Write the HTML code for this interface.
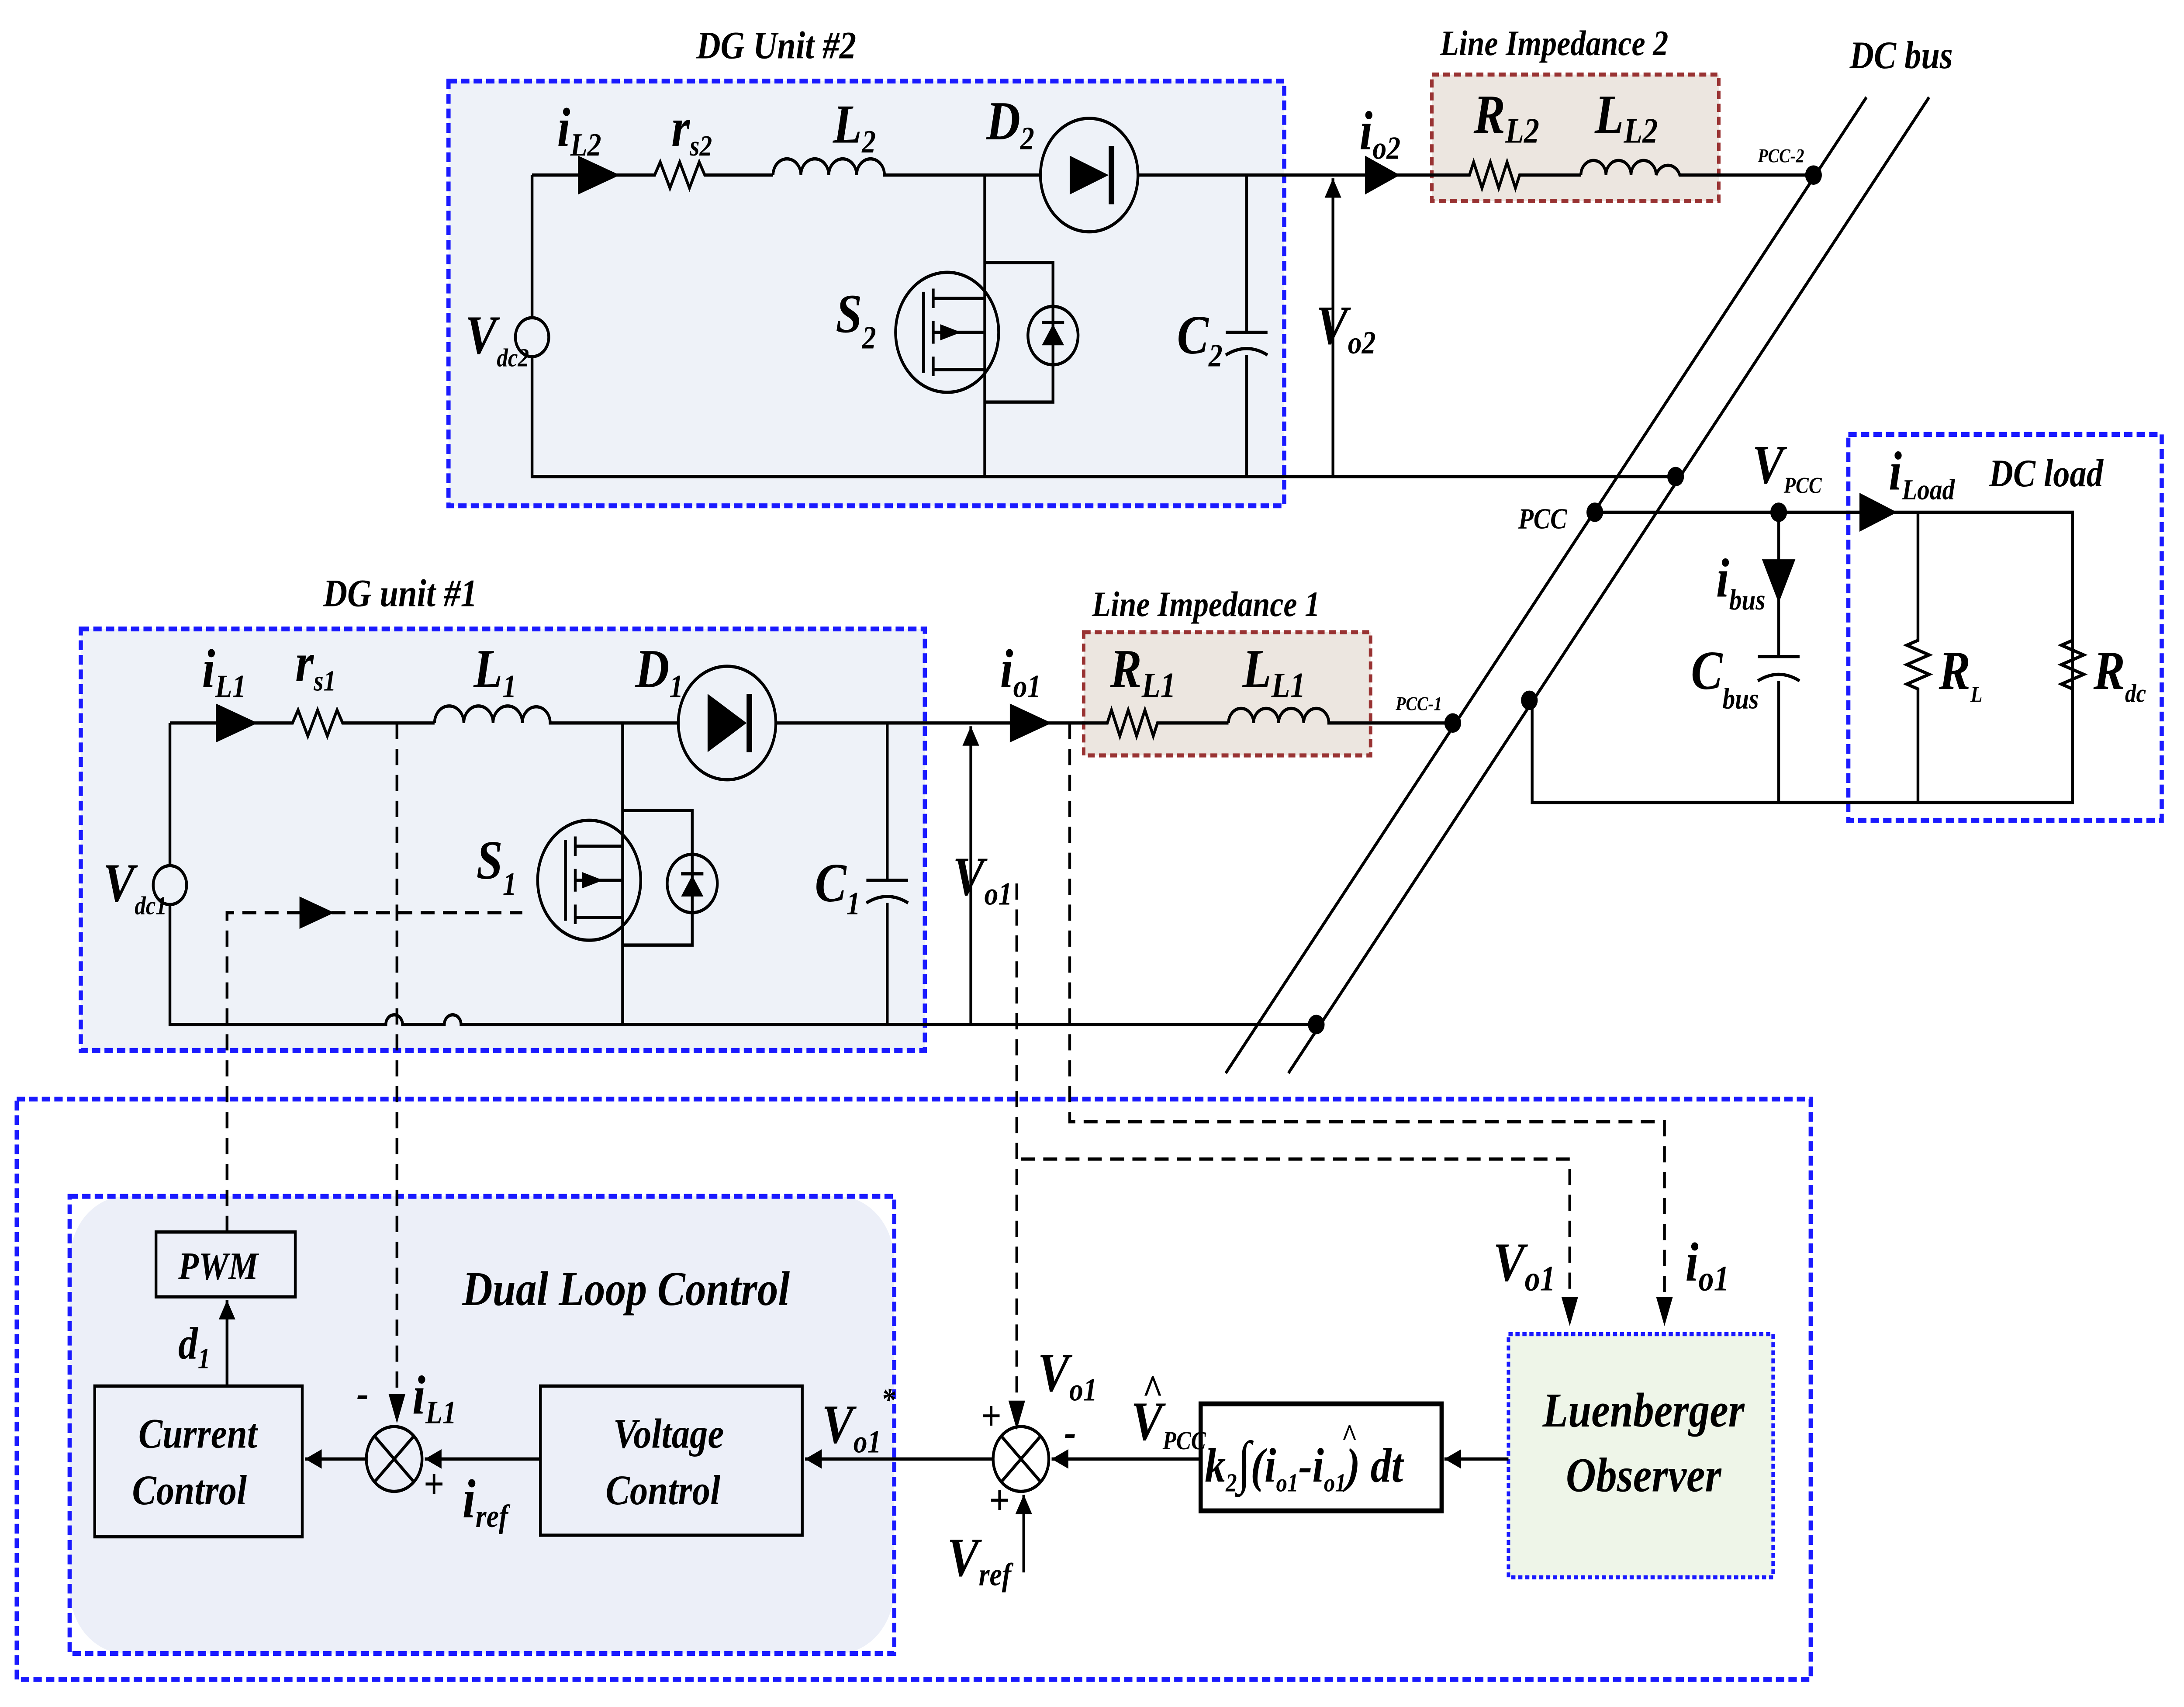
<!DOCTYPE html>
<html><head><meta charset="utf-8"><style>
html,body{margin:0;padding:0;background:#fff;overflow:hidden;width:100%;height:100%}
svg{display:block;position:fixed;left:0;top:0;width:100vw;height:100vh}
text{font-family:"Liberation Serif",serif;font-weight:bold;font-style:italic;fill:#000}
</style></head><body>
<svg viewBox="0 0 1568 1053" preserveAspectRatio="none" xmlns="http://www.w3.org/2000/svg">
<defs>
<marker id="ah" viewBox="0 0 10 10" refX="10" refY="5" markerWidth="6" markerHeight="6" orient="auto"><path d="M0,0 L10,5 L0,10 z" fill="#000"/></marker>
</defs>
<rect width="1568" height="1053" fill="#fff"/>
<rect x="322" y="50" width="600" height="262" fill="#eef2f8" stroke="#1a1aff" stroke-width="3" stroke-dasharray="6,3"/>
<rect x="58" y="388" width="606" height="260" fill="#eef2f8" stroke="#1a1aff" stroke-width="3" stroke-dasharray="6,3"/>
<rect x="1028" y="46" width="206" height="78" fill="#ece6e0" stroke="#993333" stroke-width="2.5" stroke-dasharray="5,3"/>
<rect x="778" y="390" width="206" height="76" fill="#ece6e0" stroke="#993333" stroke-width="2.5" stroke-dasharray="5,3"/>
<rect x="1327" y="268" width="225" height="238" fill="none" stroke="#1a1aff" stroke-width="3" stroke-dasharray="6,3"/>
<rect x="12" y="678" width="1288" height="358" fill="none" stroke="#1a1aff" stroke-width="3" stroke-dasharray="6,3"/>
<rect x="50" y="738" width="592" height="282" rx="40" fill="#eceff8" stroke="none"/>
<rect x="50" y="738" width="592" height="282" fill="none" stroke="#1a1aff" stroke-width="3" stroke-dasharray="6,3"/>
<rect x="1083" y="823" width="190" height="150" fill="#eef5e8" stroke="#1a1aff" stroke-width="2.5" stroke-dasharray="3,2"/>

<g fill="none" stroke="#000" stroke-width="2">
<path d="M382,108 V196 M382,220 V294 H1203"/>
<path d="M382,108 H470 l4,-8 l7,16 l7,-16 l7,16 l7,-16 l4,8 H555"/>
<path d="M555,108 a10,10 0 0 1 20,0 a10,10 0 0 1 20,0 a10,10 0 0 1 20,0 a10,10 0 0 1 20,0 H747"/>
<path d="M817,108 H1055 l3,-8 l6,16 l6,-16 l6,16 l6,-16 l6,16 l3,-8 H1135"/>
<path d="M1135,108 a9,9 0 0 1 18,0 a9,9 0 0 1 18,0 a9,9 0 0 1 18,0 a9,9 0 0 1 17,0 H1302"/>
<circle cx="782" cy="108" r="35"/>
<path d="M707,108 V294 M895,108 V205 M895,219 V294"/>
<path d="M880,205 H910 M880,219 q15,-8 30,0"/>
<circle cx="382" cy="208" r="12"/>
<circle cx="680" cy="205" r="37"/>
<path d="M707,162 H756 V248 H707"/>
<circle cx="756" cy="207" r="18"/>
<path d="M663,180 V230 M670,178 V190 M670,198 V212 M670,220 V232 M670,184 H707 M670,228 H707 M670,205 H707"/>
<path d="M122,446 V534 M122,558 V632 H277 a6,6 0 0 1 12,0 H319 a6,6 0 0 1 12,0 H945"/>
<path d="M122,446 H210 l4,-8 l7,16 l7,-16 l7,16 l7,-16 l4,8 H312"/>
<path d="M312,446 a10,10 0 0 1 21,0 a10,10 0 0 1 21,0 a10,10 0 0 1 21,0 a10,10 0 0 1 20,0 H487"/>
<path d="M557,446 H795 l3,-8 l6,16 l6,-16 l6,16 l6,-16 l6,16 l3,-8 H882"/>
<path d="M882,446 a9,9 0 0 1 18,0 a9,9 0 0 1 18,0 a9,9 0 0 1 18,0 a9,9 0 0 1 18,0 H1043"/>
<circle cx="522" cy="446" r="35"/>
<path d="M447,446 V632 M637,446 V543 M637,557 V632"/>
<path d="M622,543 H652 M622,557 q15,-8 30,0"/>
<circle cx="122" cy="546" r="12"/>
<circle cx="423" cy="543" r="37"/>
<path d="M447,500 H497 V583 H447"/>
<circle cx="497" cy="545" r="18"/>
<path d="M406,518 V568 M413,516 V528 M413,536 V550 M413,558 V570 M413,522 H447 M413,566 H447 M413,543 H447"/>
<path d="M1340,60 L880,662 M1385,60 L925,662"/>
<path d="M1145,316 H1488 V495 H1100 V432"/>
<path d="M1277,316 V405 M1277,420 V495 M1262,405 H1292 M1262,420 q15,-8 30,0"/>
<path d="M1377,316 V395 l-8,3 l16,6 l-16,6 l16,6 l-16,6 l8,3 V495"/>
<path d="M1488,395 l-8,3 l16,6 l-16,6 l16,6 l-16,6 l8,3"/>
<path d="M957,294 V110" marker-end="url(#ah)"/>
<path d="M697,632 V448" marker-end="url(#ah)"/>
<rect x="112" y="760" width="100" height="40"/>
<rect x="68" y="855" width="149" height="93"/>
<rect x="388" y="855" width="188" height="92"/>
<rect x="862" y="866" width="173" height="66" stroke-width="3"/>
<circle cx="283" cy="900" r="20"/>
<path d="M269,886 L297,914 M297,886 L269,914"/>
<circle cx="733" cy="900" r="20"/>
<path d="M719,886 L747,914 M747,886 L719,914"/>
<path d="M163,855 V802" marker-end="url(#ah)"/>
<path d="M263,900 H219" marker-end="url(#ah)"/>
<path d="M388,900 H305" marker-end="url(#ah)"/>
<path d="M713,900 H578" marker-end="url(#ah)"/>
<path d="M862,900 H755" marker-end="url(#ah)"/>
<path d="M1083,900 H1037" marker-end="url(#ah)"/>
<path d="M735,970 V922" marker-end="url(#ah)"/>
</g>
<g fill="#000">
<path d="M415,96 L445,108 L415,120 z"/><path d="M980,96 L1005,108 L980,120 z"/>
<path d="M155,434 L185,446 L155,458 z"/><path d="M725,434 L755,446 L725,458 z"/>
<path d="M1335,304 L1362,316 L1335,328 z"/><path d="M1265,345 L1277,372 L1289,345 z"/>
<path d="M768,96 L796,108 L768,120 z"/><rect x="796" y="90" width="4" height="36"/>
<path d="M508,428 L536,446 L508,464 z"/><rect x="536" y="428" width="4" height="36"/>
<path d="M748,213 L764,213 L756,200 z"/><rect x="748" y="198" width="16" height="2"/>
<path d="M489,553 L505,553 L497,540 z"/><rect x="489" y="538" width="16" height="2"/>
<path d="M675,200 L690,205 L675,210 z"/><path d="M418,538 L433,543 L418,548 z"/>
<circle cx="1302" cy="108" r="6"/><circle cx="1203" cy="294" r="6"/><circle cx="1145" cy="316" r="6"/>
<circle cx="1277" cy="316" r="6"/><circle cx="1043" cy="446" r="6"/><circle cx="1098" cy="432" r="6"/><circle cx="945" cy="632" r="6"/>
</g>
<g fill="none" stroke="#000" stroke-width="2" stroke-dasharray="10,6">
<path d="M163,760 V563 H375"/>
<path d="M285,446 V862"/>
<path d="M730,545 V870"/>
<path d="M768,446 V692 H1195 V810"/>
<path d="M733,715 H1127 V810"/>
</g>
<g fill="#000">
<path d="M215,553 L240,563 L215,573 z"/>
<path d="M279,860 L291,860 L285,878 z"/><path d="M724,864 L736,864 L730,882 z"/>
<path d="M1189,800 L1201,800 L1195,818 z"/><path d="M1121,800 L1133,800 L1127,818 z"/>
</g>
<g font-size="24">
<text x="500" y="36">DG Unit #2</text>
<text x="232" y="374">DG unit #1</text>
<text x="1034" y="34" font-size="22">Line Impedance 2</text>
<text x="784" y="380" font-size="22">Line Impedance 1</text>
<text x="1328" y="42">DC bus</text>
<text x="1428" y="300">DC load</text>
<text x="1090" y="326" font-size="18">PCC</text>
<text x="1262" y="100" font-size="12" font-style="normal">PCC-2</text>
<text x="1002" y="438" font-size="12" font-style="normal">PCC-1</text>
</g>
<g font-size="34">
<text x="400" y="90">i<tspan font-size="20" dy="6">L2</tspan></text>
<text x="482" y="90">r<tspan font-size="18" dy="6">s2</tspan></text>
<text x="598" y="88">L<tspan font-size="20" dy="6">2</tspan></text>
<text x="708" y="86">D<tspan font-size="20" dy="6">2</tspan></text>
<text x="600" y="205">S<tspan font-size="20" dy="10">2</tspan></text>
<text x="845" y="218">C<tspan font-size="20" dy="8">2</tspan></text>
<text x="945" y="212">V<tspan font-size="20" dy="6">o2</tspan></text>
<text x="334" y="218">V<tspan font-size="16" dy="8">dc2</tspan></text>
<text x="976" y="92">i<tspan font-size="20" dy="6">o2</tspan></text>
<text x="1058" y="82">R<tspan font-size="22" dy="6">L2</tspan></text>
<text x="1145" y="82">L<tspan font-size="22" dy="6">L2</tspan></text>
<text x="145" y="424">i<tspan font-size="20" dy="6">L1</tspan></text>
<text x="212" y="420">r<tspan font-size="18" dy="6">s1</tspan></text>
<text x="340" y="424">L<tspan font-size="20" dy="6">1</tspan></text>
<text x="456" y="424">D<tspan font-size="20" dy="6">1</tspan></text>
<text x="342" y="542">S<tspan font-size="20" dy="10">1</tspan></text>
<text x="585" y="556">C<tspan font-size="20" dy="8">1</tspan></text>
<text x="684" y="552">V<tspan font-size="20" dy="6">o1</tspan></text>
<text x="74" y="556">V<tspan font-size="16" dy="8">dc1</tspan></text>
<text x="718" y="424">i<tspan font-size="20" dy="6">o1</tspan></text>
<text x="797" y="424">R<tspan font-size="22" dy="6">L1</tspan></text>
<text x="892" y="424">L<tspan font-size="22" dy="6">L1</tspan></text>
<text x="1258" y="298">V<tspan font-size="14" dy="6">PCC</tspan></text>
<text x="1356" y="302">i<tspan font-size="18" dy="6">Load</tspan></text>
<text x="1232" y="368">i<tspan font-size="18" dy="8">bus</tspan></text>
<text x="1214" y="425">C<tspan font-size="18" dy="12">bus</tspan></text>
<text x="1392" y="425">R<tspan font-size="14" dy="8">L</tspan></text>
<text x="1503" y="425">R<tspan font-size="16" dy="8">dc</tspan></text>
<text x="1072" y="790">V<tspan font-size="22" dy="6">o1</tspan></text>
<text x="1210" y="790">i<tspan font-size="22" dy="6">o1</tspan></text>
<text x="745" y="858">V<tspan font-size="20" dy="6">o1</tspan></text>
<text x="590" y="890">V<tspan font-size="20" dy="6">o1</tspan><tspan font-size="20" dy="-26">*</tspan></text>
<text x="812" y="888">V<tspan font-size="16" dy="6">PCC</tspan></text>
<text x="820" y="866" font-size="26" font-style="normal">^</text>
<text x="680" y="972">V<tspan font-size="20" dy="6">ref</tspan></text>
<text x="296" y="872">i<tspan font-size="20" dy="6">L1</tspan></text>
<text x="332" y="936">i<tspan font-size="20" dy="6">ref</tspan></text>
<text x="128" y="838" font-size="28">d<tspan font-size="18" dy="6">1</tspan></text>
</g>
<g font-size="26" font-weight="bold">
<text x="256" y="868">-</text><text x="304" y="924">+</text>
<text x="704" y="882">+</text><text x="764" y="892">-</text><text x="710" y="934">+</text>
</g>
<text x="128" y="789" font-size="24">PWM</text>
<text x="332" y="805" font-size="30">Dual Loop Control</text>
<text x="142" y="893" font-size="26" text-anchor="middle">Current</text>
<text x="136" y="928" font-size="26" text-anchor="middle">Control</text>
<text x="480" y="893" font-size="26" text-anchor="middle">Voltage</text>
<text x="476" y="928" font-size="26" text-anchor="middle">Control</text>
<text x="1180" y="880" font-size="30" text-anchor="middle">Luenberger</text>
<text x="1180" y="920" font-size="30" text-anchor="middle">Observer</text>
<text x="865" y="914" font-size="30" font-style="normal">k<tspan font-size="16" dy="6">2</tspan><tspan dy="-6" font-size="36">∫</tspan><tspan font-style="italic">(i<tspan font-size="16" dy="6">o1</tspan><tspan dy="-6">-i</tspan><tspan font-size="16" dy="6">o1</tspan><tspan dy="-6">) dt</tspan></tspan></text>
<text x="963" y="892" font-size="20" font-style="normal">^</text>
</svg>
</body></html>
